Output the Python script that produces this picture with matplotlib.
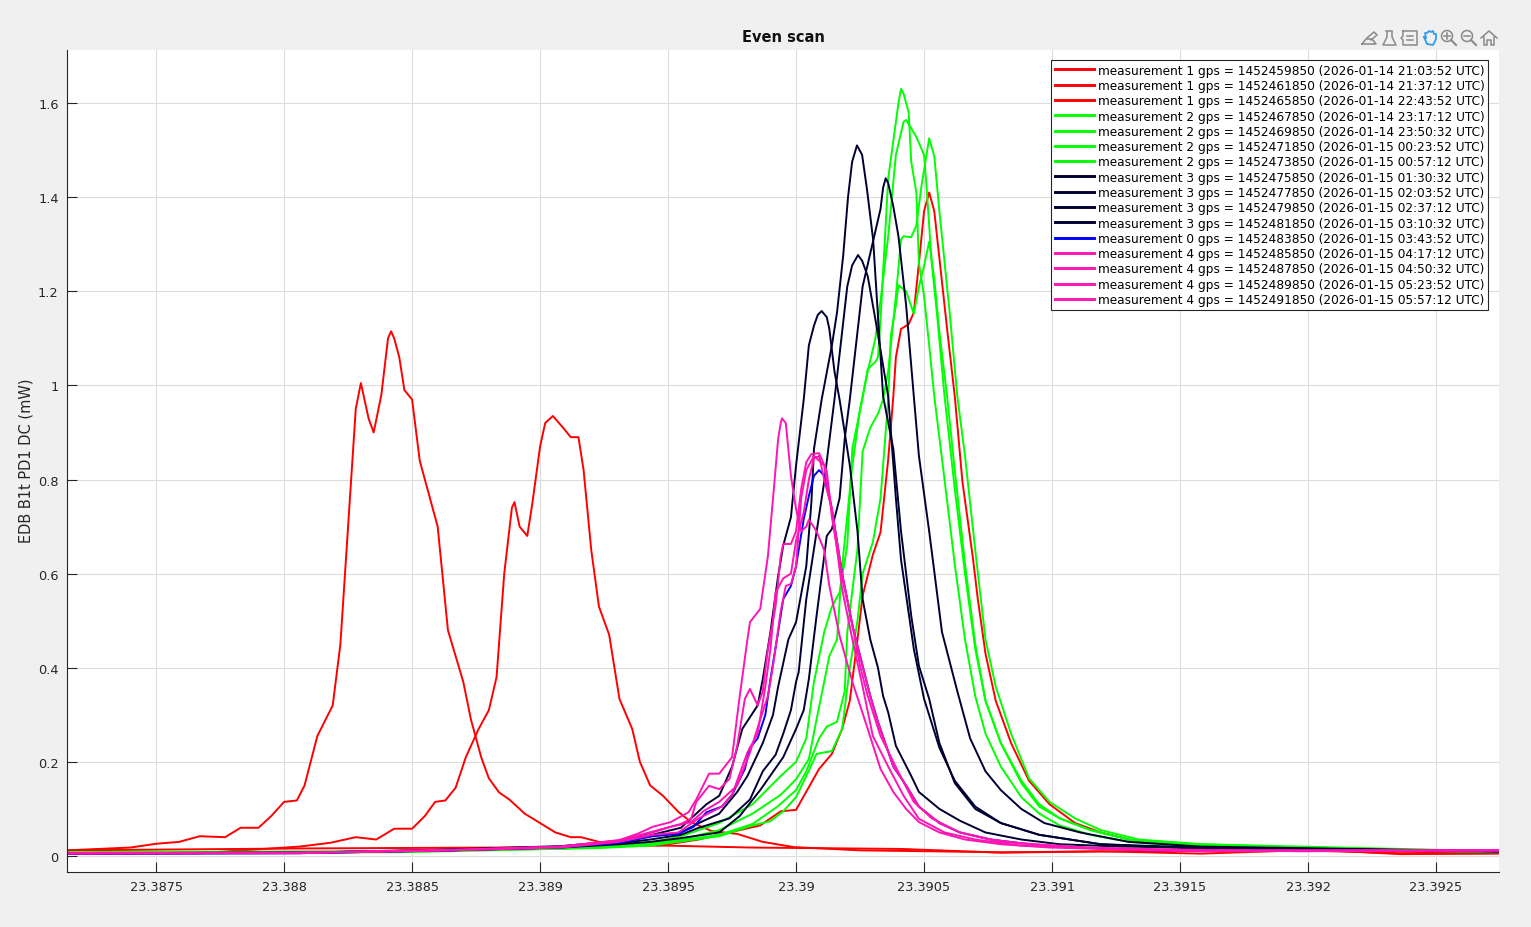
import matplotlib
matplotlib.use("Agg")
import matplotlib.pyplot as plt
from matplotlib.lines import Line2D
from matplotlib.patches import Circle

# gps times and labels of the scans
gps_times = [1452459850, 1452461850, 1452465850, 1452467850, 1452469850, 1452471850,
             1452473850, 1452475850, 1452477850, 1452479850, 1452481850, 1452483850,
             1452485850, 1452487850, 1452489850, 1452491850]
utc_times = ["2026-01-14 21:03:52", "2026-01-14 21:37:12", "2026-01-14 22:43:52",
             "2026-01-14 23:17:12", "2026-01-14 23:50:32", "2026-01-15 00:23:52",
             "2026-01-15 00:57:12", "2026-01-15 01:30:32", "2026-01-15 02:03:52",
             "2026-01-15 02:37:12", "2026-01-15 03:10:32", "2026-01-15 03:43:52",
             "2026-01-15 04:17:12", "2026-01-15 04:50:32", "2026-01-15 05:23:52",
             "2026-01-15 05:57:12"]
measurements = [1, 1, 1, 2, 2, 2, 2, 3, 3, 3, 3, 0, 4, 4, 4, 4]

x_ticks = [23.3875, 23.388, 23.3885, 23.389, 23.3895, 23.39, 23.3905, 23.391, 23.3915, 23.392, 23.3925]
x_tick_labels = ["23.3875", "23.388", "23.3885", "23.389", "23.3895", "23.39", "23.3905", "23.391", "23.3915", "23.392", "23.3925"]
y_ticks = [0, 0.2, 0.4, 0.6, 0.8, 1, 1.2, 1.4, 1.6]
y_tick_labels = ["0", "0.2", "0.4", "0.6", "0.8", "1", "1.2", "1.4", "1.6"]

# red
x_r1 = [23.38715, 23.38740, 23.38750, 23.38759, 23.38767, 23.38777, 23.38783, 23.38790, 23.38795, 23.38800, 23.38805, 23.38808, 23.38813, 23.38819, 23.38822, 23.38825, 23.38828, 23.38830, 23.38833, 23.38835, 23.38838, 23.388406, 23.388418, 23.38843, 23.38845, 23.38847, 23.38850, 23.38853, 23.38860, 23.38864, 23.38870, 23.38873, 23.38877, 23.38880, 23.38884, 23.38888, 23.38894, 23.38900, 23.38906, 23.38912, 23.38916, 23.38923, 23.38931, 23.38950, 23.38982, 23.39041, 23.39080, 23.39119, 23.39158, 23.39197, 23.39236, 23.39275]
y_r1 = [0.012, 0.018, 0.026, 0.030, 0.042, 0.040, 0.060, 0.060, 0.085, 0.115, 0.118, 0.150, 0.255, 0.320, 0.450, 0.700, 0.950, 1.005, 0.930, 0.900, 0.980, 1.100, 1.115, 1.100, 1.060, 0.990, 0.970, 0.840, 0.700, 0.480, 0.370, 0.290, 0.210, 0.165, 0.135, 0.120, 0.090, 0.070, 0.050, 0.040, 0.040, 0.030, 0.022, 0.022, 0.018, 0.015, 0.007, 0.010, 0.005, 0.012, 0.006, 0.008]

x_r2 = [23.38715, 23.38767, 23.38806, 23.38818, 23.38828, 23.38836, 23.38843, 23.38850, 23.38855, 23.38859, 23.38863, 23.38867, 23.38871, 23.38876, 23.38880, 23.38883, 23.38886, 23.38889, 23.38890, 23.38892, 23.38895, 23.38897, 23.38900, 23.38902, 23.38905, 23.38909, 23.38912, 23.38915, 23.38917, 23.38920, 23.38923, 23.38927, 23.38931, 23.38936, 23.38939, 23.38943, 23.38948, 23.38954, 23.38959, 23.38967, 23.38977, 23.38987, 23.38999, 23.39025, 23.39080, 23.39177, 23.39215, 23.39275]
y_r2 = [0.005, 0.006, 0.020, 0.028, 0.040, 0.035, 0.058, 0.058, 0.085, 0.115, 0.118, 0.145, 0.210, 0.270, 0.310, 0.380, 0.600, 0.740, 0.752, 0.700, 0.680, 0.750, 0.870, 0.920, 0.935, 0.910, 0.890, 0.890, 0.820, 0.650, 0.530, 0.470, 0.334, 0.270, 0.200, 0.150, 0.128, 0.094, 0.072, 0.053, 0.047, 0.030, 0.019, 0.012, 0.008, 0.012, 0.014, 0.010]

x_r3 = [23.38715, 23.38806, 23.38884, 23.38923, 23.38950, 23.38962, 23.38974, 23.38986, 23.38994, 23.39000, 23.39009, 23.39014, 23.39018, 23.39021, 23.39024, 23.39026, 23.39030, 23.39033, 23.39036, 23.39038, 23.39039, 23.39041, 23.39044, 23.39046, 23.39048, 23.39050, 23.39052, 23.39054, 23.39056, 23.39059, 23.39062, 23.39065, 23.39069, 23.39071, 23.39074, 23.39078, 23.39084, 23.39091, 23.39099, 23.39109, 23.39119, 23.39134, 23.39158, 23.39197, 23.39236, 23.39275]
y_r3 = [0.012, 0.016, 0.018, 0.020, 0.025, 0.035, 0.050, 0.065, 0.095, 0.098, 0.185, 0.217, 0.270, 0.330, 0.460, 0.553, 0.640, 0.688, 0.843, 0.977, 1.060, 1.120, 1.130, 1.155, 1.260, 1.370, 1.410, 1.370, 1.270, 1.120, 0.977, 0.795, 0.637, 0.546, 0.430, 0.330, 0.240, 0.160, 0.110, 0.070, 0.050, 0.030, 0.020, 0.015, 0.004, 0.005]

# green
x_g1 = [23.38715, 23.38845, 23.38923, 23.38943, 23.38955, 23.38970, 23.38983, 23.38994, 23.39000, 23.39004, 23.39007, 23.39011, 23.39014, 23.39017, 23.39020, 23.39022, 23.39026, 23.39028, 23.39031, 23.39032, 23.39033, 23.39036, 23.39040, 23.39041, 23.39042, 23.39044, 23.39045, 23.39047, 23.39048, 23.39050, 23.39052, 23.39054, 23.39058, 23.39062, 23.39066, 23.39070, 23.39074, 23.39080, 23.39088, 23.39095, 23.39103, 23.39115, 23.39130, 23.39158, 23.39197, 23.39275]
y_g1 = [0.007, 0.010, 0.020, 0.028, 0.042, 0.070, 0.110, 0.170, 0.200, 0.250, 0.370, 0.476, 0.530, 0.560, 0.660, 0.867, 0.973, 1.035, 1.050, 1.060, 1.140, 1.440, 1.600, 1.630, 1.620, 1.580, 1.475, 1.410, 1.260, 1.190, 1.085, 0.977, 0.800, 0.620, 0.460, 0.340, 0.260, 0.190, 0.125, 0.090, 0.065, 0.045, 0.030, 0.020, 0.015, 0.008]

x_g2 = [23.38715, 23.38845, 23.38923, 23.38943, 23.38955, 23.38970, 23.38983, 23.38994, 23.39000, 23.39005, 23.39008, 23.39011, 23.39013, 23.39016, 23.39018, 23.39022, 23.39025, 23.39028, 23.39031, 23.39033, 23.39036, 23.39039, 23.39042, 23.39043, 23.39047, 23.39050, 23.39051, 23.39053, 23.39055, 23.39058, 23.39062, 23.39066, 23.39070, 23.39074, 23.39080, 23.39088, 23.39095, 23.39103, 23.39115, 23.39130, 23.39158, 23.39197, 23.39275]
y_g2 = [0.006, 0.009, 0.018, 0.026, 0.035, 0.055, 0.090, 0.130, 0.163, 0.206, 0.290, 0.370, 0.425, 0.460, 0.616, 0.830, 0.950, 1.030, 1.100, 1.180, 1.317, 1.490, 1.560, 1.564, 1.528, 1.490, 1.420, 1.260, 1.155, 0.977, 0.780, 0.600, 0.440, 0.330, 0.240, 0.155, 0.105, 0.080, 0.055, 0.035, 0.025, 0.018, 0.010]

x_g3 = [23.38715, 23.38845, 23.38923, 23.38943, 23.38970, 23.38983, 23.38993, 23.39000, 23.39004, 23.39009, 23.39012, 23.39016, 23.39019, 23.39020, 23.39024, 23.39026, 23.39029, 23.39032, 23.39034, 23.39036, 23.39039, 23.39041, 23.39042, 23.39045, 23.39047, 23.39049, 23.39052, 23.39054, 23.39056, 23.39060, 23.39063, 23.39066, 23.39070, 23.39074, 23.39078, 23.39084, 23.39091, 23.39099, 23.39109, 23.39119, 23.39134, 23.39158, 23.39197, 23.39275]
y_g3 = [0.008, 0.010, 0.018, 0.024, 0.045, 0.068, 0.106, 0.140, 0.180, 0.250, 0.275, 0.285, 0.350, 0.475, 0.653, 0.860, 0.910, 0.940, 0.970, 1.030, 1.190, 1.310, 1.317, 1.315, 1.340, 1.424, 1.525, 1.487, 1.370, 1.155, 0.977, 0.850, 0.650, 0.460, 0.360, 0.260, 0.165, 0.115, 0.080, 0.055, 0.035, 0.025, 0.020, 0.010]

x_g4 = [23.38715, 23.38845, 23.38923, 23.38943, 23.38970, 23.38983, 23.38990, 23.38995, 23.39000, 23.39004, 23.39008, 23.39014, 23.39018, 23.39021, 23.39024, 23.39026, 23.39030, 23.39033, 23.39035, 23.39036, 23.39037, 23.39039, 23.39040, 23.39043, 23.39046, 23.39048, 23.39050, 23.39052, 23.39054, 23.39056, 23.39059, 23.39062, 23.39066, 23.39070, 23.39074, 23.39080, 23.39088, 23.39095, 23.39103, 23.39115, 23.39130, 23.39158, 23.39197, 23.39275]
y_g4 = [0.006, 0.008, 0.017, 0.022, 0.042, 0.065, 0.074, 0.095, 0.125, 0.170, 0.217, 0.223, 0.270, 0.400, 0.500, 0.600, 0.667, 0.760, 0.900, 0.970, 1.105, 1.170, 1.213, 1.200, 1.152, 1.210, 1.254, 1.305, 1.226, 1.113, 0.977, 0.820, 0.620, 0.450, 0.330, 0.240, 0.160, 0.110, 0.080, 0.055, 0.035, 0.022, 0.016, 0.010]

# navy
x_n1 = [23.38715, 23.38806, 23.38865, 23.38908, 23.38931, 23.38943, 23.38955, 23.38962, 23.38970, 23.38977, 23.38981, 23.38987, 23.38991, 23.38993, 23.38997, 23.39000, 23.39004, 23.39006, 23.39007, 23.39010, 23.39014, 23.39016, 23.390184, 23.390203, 23.390219, 23.390238, 23.390258, 23.390277, 23.390301, 23.39034, 23.39038, 23.39041, 23.39045, 23.39048, 23.39052, 23.39056, 23.39062, 23.39070, 23.39080, 23.39095, 23.39119, 23.39158, 23.39275]
y_n1 = [0.006, 0.007, 0.013, 0.020, 0.030, 0.042, 0.050, 0.070, 0.090, 0.136, 0.170, 0.240, 0.300, 0.360, 0.460, 0.497, 0.616, 0.752, 0.865, 0.970, 1.085, 1.155, 1.275, 1.400, 1.475, 1.510, 1.490, 1.417, 1.310, 0.977, 0.865, 0.690, 0.510, 0.404, 0.334, 0.240, 0.155, 0.100, 0.070, 0.045, 0.025, 0.015, 0.010]

x_n2 = [23.38715, 23.38806, 23.38865, 23.38908, 23.38931, 23.38943, 23.38955, 23.38970, 23.38978, 23.38986, 23.38995, 23.39000, 23.39003, 23.39005, 23.39008, 23.39011, 23.39012, 23.39014, 23.39017, 23.39019, 23.39021, 23.39026, 23.39033, 23.39034, 23.39035, 23.39036, 23.39038, 23.39040, 23.39043, 23.39046, 23.39048, 23.39052, 23.39057, 23.39063, 23.39068, 23.39074, 23.39080, 23.39088, 23.39097, 23.39111, 23.39130, 23.39158, 23.39275]
y_n2 = [0.006, 0.007, 0.012, 0.018, 0.025, 0.030, 0.038, 0.050, 0.085, 0.140, 0.210, 0.270, 0.310, 0.376, 0.510, 0.637, 0.680, 0.695, 0.760, 0.886, 0.970, 1.210, 1.375, 1.420, 1.440, 1.430, 1.380, 1.317, 1.170, 0.977, 0.850, 0.690, 0.476, 0.350, 0.250, 0.180, 0.140, 0.100, 0.070, 0.050, 0.030, 0.020, 0.010]

x_n3 = [23.38715, 23.38806, 23.38865, 23.38908, 23.38931, 23.38943, 23.38955, 23.38962, 23.38974, 23.38982, 23.38987, 23.38992, 23.38995, 23.38998, 23.39000, 23.39001, 23.39004, 23.39008, 23.39011, 23.39015, 23.39020, 23.390219, 23.390242, 23.390258, 23.39028, 23.39031, 23.39036, 23.39039, 23.39041, 23.39046, 23.39050, 23.39056, 23.39062, 23.39070, 23.39080, 23.39095, 23.39119, 23.39158, 23.39275]
y_n3 = [0.005, 0.006, 0.012, 0.019, 0.027, 0.035, 0.045, 0.060, 0.080, 0.120, 0.180, 0.215, 0.260, 0.310, 0.370, 0.390, 0.546, 0.688, 0.795, 0.970, 1.210, 1.255, 1.277, 1.265, 1.232, 1.140, 0.977, 0.760, 0.630, 0.440, 0.334, 0.230, 0.160, 0.105, 0.070, 0.045, 0.025, 0.018, 0.010]

x_n4 = [23.38715, 23.38806, 23.38865, 23.38908, 23.38931, 23.38943, 23.38955, 23.38965, 23.38970, 23.38975, 23.38979, 23.38985, 23.38987, 23.38990, 23.38993, 23.38995, 23.38998, 23.39000, 23.39003, 23.39005, 23.39007, 23.390085, 23.39010, 23.39012, 23.39013, 23.39015, 23.39017, 23.39021, 23.39024, 23.39026, 23.39029, 23.39032, 23.39034, 23.39036, 23.39039, 23.39045, 23.39048, 23.39056, 23.39064, 23.39074, 23.39088, 23.39103, 23.39127, 23.39275]
y_n4 = [0.006, 0.007, 0.014, 0.021, 0.032, 0.044, 0.060, 0.110, 0.128, 0.190, 0.270, 0.320, 0.376, 0.476, 0.595, 0.660, 0.720, 0.830, 0.970, 1.085, 1.127, 1.150, 1.158, 1.145, 1.120, 1.030, 0.970, 0.830, 0.690, 0.546, 0.460, 0.400, 0.340, 0.305, 0.234, 0.170, 0.136, 0.100, 0.075, 0.050, 0.035, 0.025, 0.020, 0.010]

# blue
x_b = [23.38715, 23.38806, 23.38865, 23.38908, 23.38931, 23.38944, 23.38954, 23.38960, 23.38965, 23.38971, 23.38975, 23.38980, 23.38982, 23.38985, 23.38988, 23.38990, 23.38993, 23.38995, 23.38998, 23.39000, 23.39003, 23.39005, 23.39007, 23.39009, 23.39011, 23.39014, 23.39018, 23.39022, 23.39026, 23.39029, 23.39032, 23.39038, 23.39043, 23.39048, 23.39056, 23.39064, 23.39076, 23.39099, 23.39138, 23.39275]
y_b = [0.005, 0.006, 0.012, 0.018, 0.028, 0.042, 0.047, 0.062, 0.093, 0.105, 0.130, 0.185, 0.230, 0.250, 0.300, 0.376, 0.476, 0.546, 0.574, 0.616, 0.716, 0.765, 0.808, 0.820, 0.808, 0.737, 0.600, 0.490, 0.404, 0.340, 0.285, 0.190, 0.150, 0.105, 0.070, 0.050, 0.035, 0.020, 0.012, 0.010]

# pink
x_p1 = [23.38715, 23.38806, 23.38865, 23.38908, 23.38931, 23.38944, 23.38954, 23.38962, 23.38971, 23.38975, 23.38981, 23.38985, 23.38988, 23.38990, 23.38992, 23.38995, 23.38998, 23.39000, 23.39003, 23.39005, 23.39007, 23.39009, 23.39011, 23.39014, 23.39018, 23.39022, 23.39026, 23.39029, 23.39032, 23.39038, 23.39043, 23.39048, 23.39056, 23.39064, 23.39076, 23.39099, 23.39158, 23.39275]
y_p1 = [0.005, 0.007, 0.012, 0.018, 0.030, 0.045, 0.050, 0.080, 0.105, 0.130, 0.220, 0.260, 0.360, 0.440, 0.560, 0.590, 0.600, 0.670, 0.730, 0.800, 0.845, 0.850, 0.800, 0.737, 0.600, 0.490, 0.404, 0.340, 0.285, 0.190, 0.150, 0.105, 0.070, 0.050, 0.035, 0.020, 0.012, 0.012]

x_p2 = [23.38715, 23.38806, 23.38865, 23.38908, 23.38931, 23.38944, 23.38951, 23.38959, 23.38964, 23.38970, 23.38977, 23.38982, 23.38986, 23.38989, 23.38991, 23.38994, 23.38996, 23.38998, 23.39000, 23.39002, 23.39004, 23.39007, 23.39011, 23.39014, 23.39018, 23.39022, 23.39026, 23.39030, 23.39036, 23.39042, 23.39048, 23.39058, 23.39070, 23.39088, 23.39138, 23.39275]
y_p2 = [0.006, 0.006, 0.012, 0.019, 0.032, 0.050, 0.062, 0.072, 0.096, 0.115, 0.150, 0.220, 0.290, 0.340, 0.404, 0.520, 0.574, 0.578, 0.616, 0.760, 0.820, 0.850, 0.830, 0.737, 0.567, 0.460, 0.360, 0.255, 0.190, 0.128, 0.079, 0.050, 0.035, 0.022, 0.012, 0.012]

x_p3 = [23.38715, 23.38806, 23.38865, 23.38908, 23.38931, 23.38944, 23.38955, 23.38959, 23.38961, 23.38966, 23.38970, 23.38974, 23.38977, 23.38980, 23.38982, 23.38985, 23.38987, 23.38989, 23.38992, 23.38994, 23.38995, 23.38998, 23.39000, 23.39002, 23.39004, 23.39006, 23.39009, 23.39012, 23.39014, 23.39018, 23.39021, 23.39025, 23.39028, 23.39033, 23.39040, 23.39046, 23.39053, 23.39064, 23.39080, 23.39119, 23.39197, 23.39275]
y_p3 = [0.006, 0.007, 0.013, 0.020, 0.033, 0.052, 0.068, 0.079, 0.115, 0.149, 0.142, 0.164, 0.234, 0.334, 0.355, 0.320, 0.350, 0.440, 0.530, 0.637, 0.663, 0.663, 0.690, 0.780, 0.837, 0.854, 0.856, 0.818, 0.720, 0.590, 0.520, 0.404, 0.340, 0.255, 0.178, 0.115, 0.080, 0.050, 0.030, 0.016, 0.010, 0.012]

x_p4 = [23.38715, 23.38806, 23.38865, 23.38908, 23.38931, 23.38938, 23.38944, 23.38951, 23.38958, 23.38961, 23.38966, 23.38970, 23.38975, 23.38978, 23.38981, 23.38982, 23.38986, 23.38989, 23.38991, 23.38993, 23.38994, 23.389945, 23.38996, 23.38998, 23.39000, 23.39002, 23.39004, 23.39005, 23.39008, 23.39011, 23.39013, 23.39017, 23.39022, 23.39028, 23.39033, 23.39038, 23.39043, 23.39048, 23.39056, 23.39066, 23.39080, 23.39099, 23.39158, 23.39275]
y_p4 = [0.006, 0.007, 0.013, 0.020, 0.034, 0.047, 0.062, 0.072, 0.093, 0.120, 0.175, 0.175, 0.210, 0.340, 0.460, 0.497, 0.525, 0.637, 0.760, 0.886, 0.920, 0.930, 0.920, 0.808, 0.737, 0.690, 0.700, 0.715, 0.690, 0.650, 0.574, 0.468, 0.370, 0.270, 0.185, 0.136, 0.100, 0.072, 0.050, 0.035, 0.025, 0.018, 0.010, 0.012]

xs = [x_r1, x_r2, x_r3, x_g4, x_g3, x_g2, x_g1, x_n1, x_n2, x_n3, x_n4, x_b, x_p1, x_p2, x_p3, x_p4]
ys = [y_r1, y_r2, y_r3, y_g4, y_g3, y_g2, y_g1, y_n1, y_n2, y_n3, y_n4, y_b, y_p1, y_p2, y_p3, y_p4]

colours = {1: "#ff0000", 2: "#00ff00", 3: "#000033", 0: "#0000ff", 4: "#ff14b4"}
W, H = 1531, 928

fig = plt.figure(figsize=(W / 100, H / 100), dpi=100, facecolor="#f0f0f0")
ax = fig.add_axes([67 / W, 1 - 873 / H, (1499 - 67) / W, (873 - 51) / H])

for i in range(len(xs)):
    m = measurements[i]
    label = "measurement %d gps = %d (%s UTC)" % (m, gps_times[i], utc_times[i])
    ax.plot(xs[i], ys[i], color=colours[m], lw=1.4, label=label)

ax.set_xlim(23.387152, 23.392746)
ax.set_ylim(-0.034, 1.7127)
ax.set_xticks(x_ticks)
ax.set_xticklabels(x_tick_labels)
ax.set_yticks(y_ticks)
ax.set_yticklabels(y_tick_labels)
ax.grid(True, color="#dcdcdc", lw=0.8)
ax.set_axisbelow(True)
ax.tick_params(direction="in", length=7, width=0.8, color="#262626", labelcolor="#262626", labelsize=9.3, pad=6)
for side in ["top", "right"]:
    ax.spines[side].set_visible(False)
for side in ["left", "bottom"]:
    ax.spines[side].set_color("#262626")
    ax.spines[side].set_linewidth(0.8)

fig.text(783 / W, 1 - 38 / H, "Even scan", ha="center", va="center", fontsize=10.5, fontweight="bold", color="#111111")
fig.text(26 / W, 1 - 461 / H, "EDB B1t PD1 DC (mW)", ha="center", va="center", rotation=90, fontsize=10.5, color="#262626")

leg = ax.legend(loc="upper right", bbox_to_anchor=(1488 / W, 1 - 61 / H), bbox_transform=fig.transFigure,
                fontsize=8.7, fancybox=False, framealpha=1, edgecolor="#262626", labelspacing=0.19,
                borderpad=0.3, borderaxespad=0, handlelength=3.3, handletextpad=0.25)
leg.get_frame().set_linewidth(0.8)
for line in leg.get_lines():
    line.set_linewidth(2.1)


# axes toolbar icons, in figure pixels
def px(x, y):
    return (x / W, 1 - y / H)


def icon_line(points, colour="#8a8a8a", lw=1.1):
    p = [px(a, b) for a, b in points]
    fig.add_artist(Line2D([a for a, b in p], [b for a, b in p], color=colour, lw=lw, transform=fig.transFigure))


def circle(x, y, r, colour="#8a8a8a"):
    fig.add_artist(Circle((x, H - y), r, fill=False, ec=colour, lw=1.1, transform=None))


icon_line([(1362, 45), (1376, 45), (1372, 40), (1366, 40), (1362, 45)])
icon_line([(1367, 39), (1374, 33), (1377, 36), (1371, 41)])
icon_line([(1386, 32), (1392, 32)])
icon_line([(1387, 33), (1387, 38), (1383, 46), (1396, 46), (1392, 38), (1392, 33)])
icon_line([(1403, 32), (1417, 32), (1417, 46), (1403, 46), (1403, 41), (1401, 39), (1403, 37), (1403, 32)])
icon_line([(1407, 37), (1413, 37)])
icon_line([(1407, 41), (1413, 41)])
icon_line([(1424, 38), (1427, 45), (1433, 46), (1436, 40), (1436, 35), (1434, 35), (1433, 32), (1431, 33), (1429, 32), (1427, 34), (1425, 34), (1426, 39), (1424, 38)], colour="#2f9cf0", lw=1.3)
for cx in [1447, 1467]:
    circle(cx, 37, 5.5)
    icon_line([(cx + 4, 41), (cx + 9, 46)], lw=1.5)
    icon_line([(cx - 3, 37), (cx + 3, 37)])
icon_line([(1447, 34), (1447, 40)])
icon_line([(1481, 39), (1489, 32), (1497, 39)])
icon_line([(1484, 38), (1484, 46), (1487, 46), (1487, 41), (1491, 41), (1491, 46), (1494, 46), (1494, 38)])

fig.savefig("out.png", dpi=100, facecolor=fig.get_facecolor())
